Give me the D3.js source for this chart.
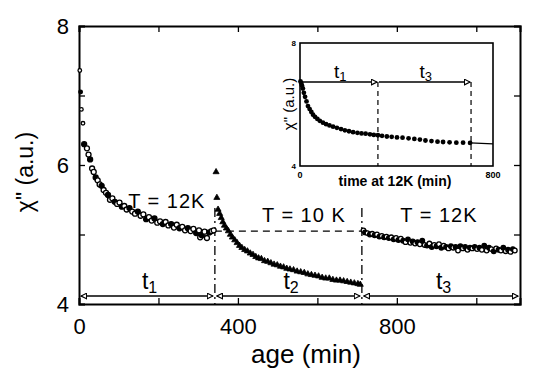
<!DOCTYPE html>
<html>
<head>
<meta charset="utf-8">
<script src="https://cdn.jsdelivr.net/npm/d3@7"></script>
<style>
  body { margin: 0; background: #fff; }
  text { font-family: "Liberation Sans", Arial, sans-serif; fill: #000; }
</style>
</head>
<body>
<div class="graph"></div>
<script>
// aging at 12K, first stage (t1)
let age12a = [2, 4, 6, 10, 13, 20, 24, 28, 33, 37, 42, 47, 52, 57, 62, 68, 73, 78, 84, 90, 96, 102, 108, 114, 120, 127, 134, 141, 148, 155, 162, 169, 176, 183, 190, 197, 204, 211, 218, 225, 232, 239, 246, 253, 260, 267, 274, 281, 288, 295, 302, 305, 309, 316, 322, 328, 334, 339]
let chi12a = [7.36, 7.05, 6.8, 6.6, 6.3, 6.24, 6.15, 6.08, 5.95, 5.9, 5.82, 5.78, 5.72, 5.7, 5.64, 5.6, 5.57, 5.5, 5.52, 5.47, 5.44, 5.46, 5.4, 5.41, 5.36, 5.38, 5.33, 5.3, 5.33, 5.27, 5.29, 5.22, 5.25, 5.2, 5.23, 5.17, 5.19, 5.15, 5.18, 5.13, 5.15, 5.1, 5.14, 5.09, 5.11, 5.06, 5.09, 5.05, 5.08, 5.02, 5.06, 4.96, 4.99, 5.04, 4.95, 5.03, 5.05, 5.06]

// aging at 10K (t2)
let age10 = [345, 347, 350, 354, 358, 362, 366, 371, 376, 381, 386, 392, 398, 404, 410, 417, 424, 431, 438, 445, 452, 459, 467, 475, 483, 491, 499, 507, 515, 523, 531, 540, 549, 558, 567, 576, 585, 594, 603, 612, 621, 630, 639, 648, 657, 666, 675, 684, 693, 702, 708]
let chi10 = [5.9, 5.53, 5.36, 5.3, 5.24, 5.18, 5.13, 5.09, 5.05, 5.0, 4.96, 4.92, 4.88, 4.84, 4.81, 4.78, 4.76, 4.73, 4.71, 4.68, 4.66, 4.65, 4.62, 4.61, 4.59, 4.57, 4.56, 4.54, 4.53, 4.51, 4.5, 4.49, 4.47, 4.46, 4.45, 4.43, 4.42, 4.41, 4.4, 4.38, 4.37, 4.37, 4.35, 4.34, 4.34, 4.33, 4.32, 4.31, 4.3, 4.29, 4.28]

// back at 12K (t3)
let age12b = [716, 720, 726, 732, 738, 744, 750, 756, 762, 768, 774, 780, 786, 792, 798, 804, 810, 816, 822, 828, 834, 840, 846, 852, 858, 864, 870, 876, 882, 888, 894, 900, 906, 912, 918, 924, 930, 936, 942, 948, 954, 960, 966, 972, 978, 984, 990, 996, 1002, 1008, 1014, 1020, 1026, 1032, 1038, 1044, 1050, 1056, 1062, 1068, 1074, 1080, 1086, 1092, 1097]
let chi12b = [5.06, 5.03, 5.02, 5.0, 5.01, 4.99, 5.0, 4.97, 4.98, 4.96, 4.97, 4.95, 4.96, 4.93, 4.95, 4.92, 4.94, 4.91, 4.89, 4.93, 4.88, 4.9, 4.87, 4.89, 4.86, 4.91, 4.85, 4.84, 4.87, 4.82, 4.85, 4.83, 4.86, 4.81, 4.84, 4.82, 4.8, 4.83, 4.81, 4.82, 4.77, 4.83, 4.8, 4.82, 4.78, 4.81, 4.8, 4.82, 4.79, 4.81, 4.78, 4.84, 4.77, 4.81, 4.79, 4.76, 4.8, 4.78, 4.77, 4.81, 4.76, 4.78, 4.75, 4.79, 4.77]

// inset: continuous aging at 12K
let insetAge = [2, 5, 8, 12, 16, 21, 27, 33, 40, 47, 54, 62, 72, 82, 95, 108, 122, 137, 153, 170, 186, 203, 220, 238, 255, 272, 290, 306, 323, 340, 360, 380, 402, 425, 450, 474, 497, 520, 545, 570, 593, 620, 648, 676, 705]
let insetChi = [6.75, 6.7, 6.62, 6.52, 6.38, 6.25, 6.1, 5.95, 5.85, 5.76, 5.67, 5.6, 5.53, 5.47, 5.41, 5.36, 5.32, 5.28, 5.24, 5.2, 5.16, 5.13, 5.1, 5.08, 5.06, 5.05, 5.03, 5.01, 5.0, 4.98, 4.96, 4.95, 4.93, 4.92, 4.9, 4.88, 4.86, 4.83, 4.81, 4.79, 4.78, 4.77, 4.76, 4.76, 4.75]
let insetTailAge = [705, 800]
let insetTailChi = [4.75, 4.72]

let xTicks = [0, 200, 400, 600, 800, 1000]
let xLabels = [0, 400, 800]
let yTicks = [4, 5, 6, 7, 8]
let yLabels = [4, 6, 8]

// stage boundaries (min) and levels
let stageEdges = [0, 342, 712, 1110]
let stageNames = ['1', '2', '3']
let tempLabels = ['T = 12K', 'T = 10 K', 'T = 12K']
let tempAt = [221, 566, 906]
let insetEdges = [0, 323, 709]
let insetNames = ['1', '3']

let width = 545,
    height = 381

let x = d3.scaleLinear().domain([0, 1110]).range([79, 520])
let y = d3.scaleLinear().domain([4, 8]).range([304, 26])

let ix = d3.scaleLinear().domain([0, 800]).range([300, 493])
let iy = d3.scaleLinear().domain([4, 8]).range([166, 43])

let svg = d3.select('.graph').append('svg')
    .attr('width', width)
    .attr('height', height)

svg.append('rect').attr('width', width).attr('height', height).attr('fill', '#fff')

let defs = svg.append('defs')
defs.append('marker')
    .attr('id', 'head')
    .attr('viewBox', '0 0 10 10')
    .attr('refX', 9).attr('refY', 5)
    .attr('markerWidth', 7).attr('markerHeight', 7)
    .attr('markerUnits', 'userSpaceOnUse')
    .attr('orient', 'auto-start-reverse')
    .append('path')
    .attr('d', 'M1,1 L9,5 L1,9 Z')
    .attr('fill', '#fff').attr('stroke', '#000').attr('stroke-width', 1.6)

// axes, ticks pointing inward on all sides
let fmtX = d => xLabels.includes(d) ? d : ''
let fmtY = d => yLabels.includes(d) ? d : ''

let gx = svg.append('g').attr('transform', 'translate(0,' + y(4) + ')')
    .call(d3.axisBottom(x).tickValues(xTicks).tickSize(-6).tickPadding(14).tickFormat(fmtX))
svg.append('g').attr('transform', 'translate(0,' + y(8) + ')')
    .call(d3.axisTop(x).tickValues(xTicks).tickSize(-6).tickFormat(''))
let gy = svg.append('g').attr('transform', 'translate(' + x(0) + ',0)')
    .call(d3.axisLeft(y).tickValues(yTicks).tickSize(-6).tickPadding(10).tickFormat(fmtY))
svg.append('g').attr('transform', 'translate(' + x(1110) + ',0)')
    .call(d3.axisRight(y).tickValues(yTicks).tickSize(-6).tickFormat(''))

svg.selectAll('.domain').attr('stroke-width', 2)
svg.selectAll('.tick line').attr('stroke-width', 1.3)
svg.selectAll('.tick text').attr('font-size', 22).attr('fill', '#000')
    .attr('font-family', '"Liberation Sans", Arial, sans-serif')

svg.append('text')
    .attr('x', 306).attr('y', 363)
    .attr('text-anchor', 'middle')
    .attr('font-size', 26)
    .text('age (min)')

svg.append('text')
    .attr('transform', 'translate(33,172) rotate(-90)')
    .attr('text-anchor', 'middle')
    .attr('font-size', 23)
    .text('χ" (a.u.)')

// dashed guides between stages
svg.append('line')
    .attr('x1', x(stageEdges[1])).attr('x2', x(stageEdges[2]))
    .attr('y1', y(5.05)).attr('y2', y(5.05))
    .attr('stroke', '#000').attr('stroke-width', 1.3).attr('stroke-dasharray', '7,5')
svg.selectAll('.vguide').data([stageEdges[1], stageEdges[2]]).enter().append('line')
    .attr('x1', d => x(d)).attr('x2', d => x(d))
    .attr('y1', y(5.38)).attr('y2', y(4))
    .attr('stroke', '#000').attr('stroke-width', 1.3).attr('stroke-dasharray', '9,4,2,4')

// stage arrows
let arrowY = y(4.115)
for (let i = 0; i < 3; i++) {
    svg.append('line')
        .attr('x1', x(stageEdges[i]) + 2).attr('x2', x(stageEdges[i + 1]) - 2)
        .attr('y1', arrowY).attr('y2', arrowY)
        .attr('stroke', '#000').attr('stroke-width', 1.6)
        .attr('marker-start', 'url(#head)').attr('marker-end', 'url(#head)')
    let t = svg.append('text')
        .attr('x', x((stageEdges[i] + stageEdges[i + 1]) / 2) - 5)
        .attr('y', y(4.22))
        .attr('font-size', 23)
        .text('t')
    t.append('tspan').attr('font-size', 16).attr('dy', 4).text(stageNames[i])
    svg.append('text')
        .attr('x', x(tempAt[i])).attr('y', y(i === 0 ? 5.38 : 5.18))
        .attr('text-anchor', 'middle')
        .attr('font-size', 20).attr('letter-spacing', 1)
        .text(tempLabels[i])
}

// data
svg.append('g').selectAll('circle')
    .data(age12a.map((a, i) => [a, chi12a[i]]))
    .enter().append('circle')
    .attr('cx', d => x(d[0])).attr('cy', d => y(d[1]))
    .attr('r', (d, i) => i < 4 ? 1.8 : 2.5)
    .attr('fill', (d, i) => i % 3 === 1 ? '#000' : '#fff')
    .attr('stroke', '#000').attr('stroke-width', 1.3)

svg.append('g').selectAll('path')
    .data(age10.map((a, i) => [a, chi10[i]]))
    .enter().append('path')
    .attr('transform', d => 'translate(' + x(d[0]) + ',' + y(d[1]) + ')')
    .attr('d', d3.symbol(d3.symbolTriangle, 16))
    .attr('fill', '#000').attr('stroke', '#000').attr('stroke-width', 0.8)

svg.append('g').selectAll('circle')
    .data(age12b.map((a, i) => [a, chi12b[i]]))
    .enter().append('circle')
    .attr('cx', d => x(d[0])).attr('cy', d => y(d[1]))
    .attr('r', 2.3)
    .attr('fill', (d, i) => i % 2 ? '#000' : '#fff')
    .attr('stroke', '#000').attr('stroke-width', 1.3)

// inset
let inset = svg.append('g')
inset.append('rect')
    .attr('x', ix(0)).attr('y', iy(8))
    .attr('width', ix(800) - ix(0)).attr('height', iy(4) - iy(8))
    .attr('fill', '#fff').attr('stroke', '#000').attr('stroke-width', 1.6)

inset.selectAll('.ivguide').data([insetEdges[1], insetEdges[2]]).enter().append('line')
    .attr('x1', d => ix(d)).attr('x2', d => ix(d))
    .attr('y1', iy(6.73)).attr('y2', iy(4))
    .attr('stroke', '#000').attr('stroke-width', 1.2).attr('stroke-dasharray', '5,4')

for (let i = 0; i < 2; i++) {
    inset.append('line')
        .attr('x1', ix(insetEdges[i]) + 1).attr('x2', ix(insetEdges[i + 1]) - 1)
        .attr('y1', iy(6.73)).attr('y2', iy(6.73))
        .attr('stroke', '#000').attr('stroke-width', 1.4)
        .attr('marker-end', 'url(#head)')
    let t = inset.append('text')
        .attr('x', ix((insetEdges[i] + insetEdges[i + 1]) / 2) - 5)
        .attr('y', iy(6.85))
        .attr('font-size', 19)
        .text('t')
    t.append('tspan').attr('font-size', 13).attr('dy', 3).text(insetNames[i])
}

inset.append('path')
    .datum(insetTailAge.map((a, i) => [a, insetTailChi[i]]))
    .attr('d', d3.line().x(d => ix(d[0])).y(d => iy(d[1])))
    .attr('fill', 'none').attr('stroke', '#000').attr('stroke-width', 1.2)

inset.selectAll('.ipt').data(insetAge.map((a, i) => [a, insetChi[i]])).enter().append('circle')
    .attr('cx', d => ix(d[0])).attr('cy', d => iy(d[1]))
    .attr('r', 2.4).attr('fill', '#000')

inset.selectAll('.iyl').data([4, 8]).enter().append('text')
    .attr('x', ix(0) - 4).attr('y', d => iy(d) + 3)
    .attr('text-anchor', 'end')
    .attr('font-size', 8).attr('font-weight', 'bold')
    .text(d => d)
inset.selectAll('.ixl').data([0, 800]).enter().append('text')
    .attr('x', d => ix(d)).attr('y', 178)
    .attr('text-anchor', 'middle')
    .attr('font-size', 9).attr('font-weight', 'bold')
    .text(d => d)

inset.append('text')
    .attr('x', 395).attr('y', 186)
    .attr('text-anchor', 'middle')
    .attr('font-size', 14).attr('font-weight', 'bold')
    .text('time at 12K (min)')

inset.append('text')
    .attr('transform', 'translate(294,104) rotate(-90)')
    .attr('text-anchor', 'middle')
    .attr('font-size', 15)
    .text('χ" (a.u.)')
</script>
</body>
</html>
